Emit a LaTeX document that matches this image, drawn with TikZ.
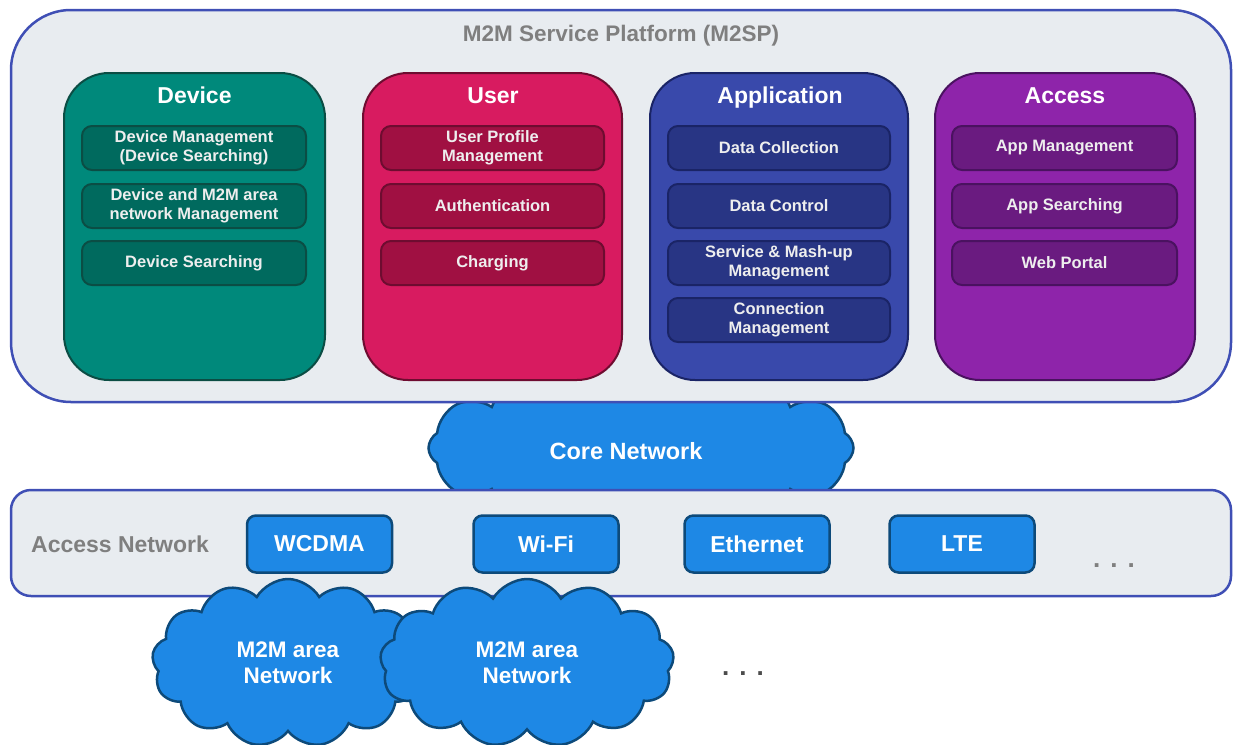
\documentclass[tikz,border=0pt]{standalone}
\usepackage{fontspec}
\setmainfont{Liberation Sans}
\usetikzlibrary{shapes.symbols}
\definecolor{platborder}{HTML}{3F4FB5}
\definecolor{platfill}{HTML}{E8ECF0}
\definecolor{titlegray}{HTML}{7F7F7F}
\definecolor{devfill}{HTML}{00897B}
\definecolor{devborder}{HTML}{0B4D44}
\definecolor{devsub}{HTML}{006A5E}
\definecolor{userfill}{HTML}{D81B60}
\definecolor{userborder}{HTML}{6E0C30}
\definecolor{usersub}{HTML}{A01042}
\definecolor{appfill}{HTML}{3949AB}
\definecolor{appborder}{HTML}{1A2466}
\definecolor{appsub}{HTML}{283584}
\definecolor{accfill}{HTML}{8E24AA}
\definecolor{accborder}{HTML}{4A1260}
\definecolor{accsub}{HTML}{6A1B80}
\definecolor{netfill}{HTML}{1E88E5}
\definecolor{netborder}{HTML}{0D4A7A}
\definecolor{subtext}{HTML}{EEEEEE}
\tikzset{
  group/.style={draw=#1border, fill=#1fill, line width=2pt, rounded corners=45pt,
    minimum height=307pt, inner sep=0pt},
  grouptitle/.style={text=white, anchor=base, font=\bfseries\fontsize{23}{26}\selectfont},
  sub/.style={draw=#1border, fill=#1sub, line width=2pt, rounded corners=10pt,
    minimum height=44pt, inner sep=0pt, align=center, text=subtext,
    font=\bfseries\fontsize{16.5}{19.5}\selectfont},
  outerbox/.style={draw=platborder, fill=platfill, line width=2.5pt, inner sep=0pt},
  netbox/.style={draw=netborder, fill=netfill, line width=2.5pt, rounded corners=9pt,
    minimum width=145pt, minimum height=57pt, inner sep=0pt, text=white,
    font=\bfseries\fontsize{23}{26}\selectfont},
  netcloud/.style={cloud, cloud puffs=11, cloud puff arc=120, cloud ignores aspect,
    draw=netborder, fill=netfill, line width=2.5pt, inner sep=0pt, align=center,
    text=white, font=\bfseries\fontsize{22.5}{26}\selectfont},
  graylabel/.style={text=titlegray, font=\bfseries\fontsize{23}{26}\selectfont}
}
\begin{document}
\begin{tikzpicture}[x=1pt,y=-1pt]
\useasboundingbox (0,0) rectangle (1233,744);
% core network cloud (behind)
\node[netcloud, cloud puffs=12, minimum width=425pt, minimum height=175pt] (core) at (641,448) {};
% platform
\node[outerbox, rounded corners=60pt, minimum width=1220pt, minimum height=392pt] (plat) at (621,206) {};
\node[graylabel, font=\bfseries\fontsize{22.5}{26}\selectfont, anchor=base] (plattitle) at (621,41) {M2M Service Platform (M2SP)};
% groups
\node[group=dev, minimum width=261pt] (dev) at (194.5,226.5) {};
\node[group=user, minimum width=259pt] (user) at (492.5,226.5) {};
\node[group=app, minimum width=258pt] (app) at (779,226.5) {};
\node[group=acc, minimum width=260pt] (acc) at (1065,226.5) {};
\node[grouptitle] (devt) at (194.5,103) {Device};
\node[grouptitle] (usert) at (493,103) {User};
\node[grouptitle] (appt) at (780,103) {Application};
\node[grouptitle] (acct) at (1065,103) {Access};
% device subs
\node[sub=dev, minimum width=224pt] (d1) at (194,148) {Device Management\\(Device Searching)};
\node[sub=dev, minimum width=224pt] (d2) at (194,206) {Device and M2M area\\network Management};
\node[sub=dev, minimum width=224pt] (d3) at (194,263) {Device Searching};
% user subs
\node[sub=user, minimum width=223pt] (u1) at (492.5,148) {User Profile\\Management};
\node[sub=user, minimum width=223pt] (u2) at (492.5,206) {Authentication};
\node[sub=user, minimum width=223pt] (u3) at (492.5,263) {Charging};
% app subs
\node[sub=app, minimum width=222pt] (a1) at (779,148) {Data Collection};
\node[sub=app, minimum width=222pt] (a2) at (779,206) {Data Control};
\node[sub=app, minimum width=222pt] (a3) at (779,263) {Service \& Mash-up\\Management};
\node[sub=app, minimum width=222pt] (a4) at (779,320) {Connection\\Management};
% access subs
\node[sub=acc, minimum width=225pt] (c1) at (1064.5,148) {App Management};
\node[sub=acc, minimum width=225pt] (c2) at (1064.5,206) {App Searching};
\node[sub=acc, minimum width=225pt] (c3) at (1064.5,263) {Web Portal};
% core label
\node[text=white, font=\bfseries\fontsize{23.5}{26}\selectfont] (corelabel) at (626,451) {Core Network};
% access network
\node[outerbox, rounded corners=20pt, minimum width=1220pt, minimum height=106pt] (accnet) at (621,543) {};
\node[graylabel] (accnetlabel) at (120,544) {Access Network};
\node[netbox] (wcdma) at (319.5,544) {WCDMA};
\node[netbox] (wifi) at (546,544) {Wi-Fi};
\node[netbox] (eth) at (757,544) {Ethernet};
\node[netbox] (lte) at (962,544) {LTE};
\node[text=titlegray, font=\bfseries\fontsize{26}{28}\selectfont] (dots1) at (1114,566) {.\hspace{10pt}.\hspace{10pt}.};
% M2M area clouds
\node[netcloud, cloud puffs=13, minimum width=272pt, minimum height=168pt] (m1) at (288,663) {M2M area\\Network};
\node[netcloud, cloud puffs=13, minimum width=294pt, minimum height=168pt] (m2) at (527,663) {M2M area\\Network};
\node[text=black!70, font=\bfseries\fontsize{26}{28}\selectfont] (dots2) at (743,674) {.\hspace{10pt}.\hspace{10pt}.};
\end{tikzpicture}
\end{document}
